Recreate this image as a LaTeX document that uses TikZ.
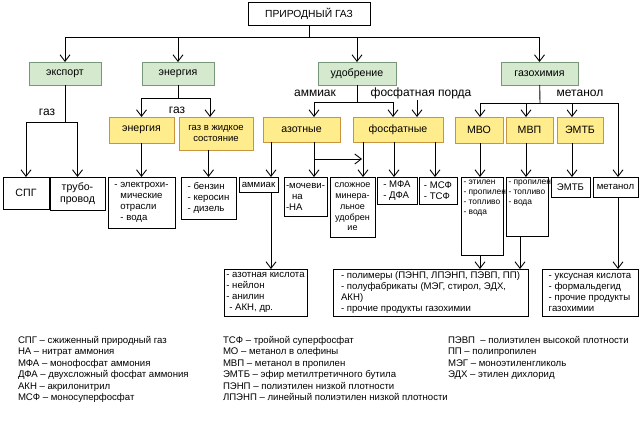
\documentclass[tikz,border=0pt]{standalone}
\usepackage{fontspec}
\setmainfont{Liberation Sans}
\usetikzlibrary{arrows.meta}
\definecolor{boxgreen}{RGB}{212,233,206}
\definecolor{edgegreen}{RGB}{120,150,120}
\definecolor{boxyellow}{RGB}{255,236,140}
\definecolor{edgeyellow}{RGB}{200,148,60}

\begin{document}
\begin{tikzpicture}[x=1pt, y=-1pt, line width=0.9pt,
		every node/.style={inner sep=1.5pt, outer sep=0pt},
		sz/.style 2 args={minimum width=#1, minimum height=#2},
		box/.style={draw, anchor=north west, align=left, font=\fontsize{9.6}{11}\selectfont},
		txt/.style={anchor=north west, align=left, inner sep=2.5pt, font=\fontsize{8.4}{10}\selectfont},
		greenbox/.style={draw=edgegreen, fill=boxgreen, anchor=north west, font=\fontsize{10.6}{12}\selectfont},
		yellowbox/.style={draw=edgeyellow, fill=boxyellow, anchor=north west, align=center, font=\fontsize{10.6}{12}\selectfont},
		lbl/.style={font=\fontsize{12}{14}\selectfont},
		legend/.style={anchor=north west, align=left, inner sep=0pt, font=\fontsize{9.6}{11.5}\selectfont},
		arr/.style={-{Straight Barb[length=6.5pt,width=10pt]}}]
		\useasboundingbox (0,0) rectangle (640,444);

		% top and first level
		\node[box, sz={122}{23}, font=\fontsize{10.3}{12}\selectfont] (gas) at (248,2) {ПРИРОДНЫЙ ГАЗ};
		\node[greenbox, sz={72}{23}] (export) at (29,62) {экспорт};
		\node[greenbox, sz={72}{23}] (energy) at (142,62) {энергия};
		\node[greenbox, sz={78}{23}] (fert) at (318,62) {удобрение};
		\node[greenbox, sz={77}{23}] (chem) at (501,62) {газохимия};

		% second level
		\node[yellowbox, sz={65}{26}] (yen) at (109,117) {энергия};
		\node[yellowbox, sz={74}{33}, font=\fontsize{9.5}{11.5}\selectfont] (yliq) at (179,117) {газ в жидкое\\состояние};
		\node[yellowbox, sz={77}{25}] (ynit) at (263,117) {азотные};
		\node[yellowbox, sz={90}{25}] (yphos) at (353,117) {фосфатные};
		\node[yellowbox, sz={48}{26}] (ymbo) at (455,117) {МВО};
		\node[yellowbox, sz={47}{26}] (ymvp) at (506,117) {МВП};
		\node[yellowbox, sz={46}{26}] (ymtb) at (557,117) {ЭМТБ};

		% products
		\node[box, sz={46}{32}, align=center, font=\fontsize{10.6}{12}\selectfont] (lng) at (3,177) {СПГ};
		\node[box, sz={55}{33}, align=center, font=\fontsize{10.6}{12.5}\selectfont] (pipe) at (50,177) {трубо-\\провод};
		\node[box, sz={67}{51}] (elec) at (108,177) {- электрохи-\\\hspace*{6pt}мические\\\hspace*{6pt}отрасли\\\hspace*{6pt}- вода};
		\node[box, sz={55}{42}] (fuel) at (181,177) {- бензин\\- керосин\\- дизель};
		\node[box, sz={39}{15}, align=center] (amm) at (239,177) {аммиак};
		\node[box, sz={43}{39}] (urea) at (284,177) {-мочеви-\\\hspace*{6pt}на\\-НА};
		\node[box, sz={45}{60}, align=center, font=\fontsize{9}{10.8}\selectfont] (compl) at (330,177) {сложное\\минера-\\льное\\удобрен\\ие};
		\node[box, sz={40}{27}] (mfa) at (377,177) {- МФА\\- ДФА};
		\node[box, sz={38}{27}] (msf) at (419,177) {- МСФ\\- ТСФ};
		\node[box, sz={42}{78}, label={[txt]north west:{- этилен\\- пропилен\\- топливо\\- вода}}] (eth) at (461,177) {};
		\node[box, sz={42}{59}, label={[txt]north west:{- пропилен\\- топливо\\- вода}}] (prop) at (506,177) {};
		\node[box, sz={39}{20}, align=center] (mtbe) at (551,177) {ЭМТБ};
		\node[box, sz={45}{20}, align=center] (meth) at (593,177) {метанол};

		% end products
		\node[box, sz={83}{47}] (nacid) at (224,269) {- азотная кислота\\- нейлон\\- анилин\\\hspace*{3pt}- АКН, др.};
		\node[box, sz={195}{47}] (poly) at (333,269) {- полимеры (ПЭНП, ЛПЭНП, ПЭВП, ПП)\\- полуфабрикаты (МЭГ, стирол, ЭДХ,\\АКН)\\- прочие продукты газохимии};
		\node[box, sz={96}{47}] (acet) at (542,269) {- уксусная кислота\\- формальдегид\\- прочие продукты\\газохимии};

		% labels on the lines
		\node[lbl] (gaslbla) at (47,112) {газ};
		\node[lbl] (gaslblb) at (177,110) {газ};
		\node[lbl] (ammlbl) at (315,93) {аммиак};
		\node[lbl] (rocklbl) at (421,93) {фосфатная порда};
		\node[lbl] (methlbl) at (580,93) {метанол};

		% columns and junctions
		\coordinate (bus) at (309,37);
		\coordinate (exbus) at (65,122);
		\coordinate (enbus) at (178,98);
		\coordinate (fbus) at (357,102);
		\coordinate (cbus) at (540,103);
		\coordinate (nbr) at (314,159);
		\coordinate (cola) at (271,0);
		\coordinate (colb) at (314,0);
		\coordinate (colc) at (363,0);
		\coordinate (cold) at (394,0);
		\coordinate (cole) at (435,0);
		\coordinate (colf) at (480,0);
		\coordinate (colg) at (526,0);
		\coordinate (colh) at (572,0);
		\coordinate (colk) at (618,0);
		\coordinate (colm) at (520,0);
		\coordinate (colr) at (417,0);
		\coordinate (coly) at (210,0);

		\draw (gas) -- (bus);
		\draw[arr] (bus) -| (export);
		\draw[arr] (bus) -| (energy);
		\draw[arr] (bus) -| (fert);
		\draw[arr] (bus) -| (chem);

		\draw (export) -- (exbus);
		\draw[arr] (exbus) -| (lng);
		\draw[arr] (exbus) -| (pipe);

		\draw (energy) -- (enbus);
		\draw[arr] (enbus) -| (yen);
		\draw[arr] (enbus) -| (coly |- yliq.north);
		\draw[arr] (yen) -- (elec);
		\draw[arr] (yliq.south -| fuel) -- (fuel);

		\draw (fert) -- (fbus);
		\draw[arr] (fbus) -| (colb |- ynit.north);
		\draw[arr] (fbus) -| ([xshift=-5pt]yphos.north);
		\draw[arr] (rocklbl.south -| colr) -- (colr |- yphos.north);
		\draw[arr] (ynit.south -| cola) -- (cola |- amm.north);
		\draw[arr] (amm.south -| cola) -- (cola |- nacid.north);
		\draw[arr] (ynit.south -| colb) -- (colb |- urea.north);
		\draw[arr, shorten >=1pt] (nbr) -- (nbr -| colc);
		\draw[arr] (yphos.south -| colc) -- (colc |- compl.north);
		\draw[arr] (yphos.south -| cold) -- (cold |- mfa.north);
		\draw[arr] (yphos.south -| cole) -- (cole |- msf.north);

		\draw (chem) -- (cbus);
		\draw[arr] (cbus) -| (colf |- ymbo.north);
		\draw[arr] (cbus) -| (colg |- ymvp.north);
		\draw[arr] (cbus) -| (colh |- ymtb.north);
		\draw[arr] (cbus) -| (colk |- meth.north);
		\draw[arr] (ymbo.south -| colf) -- (colf |- eth.north);
		\draw[arr] (ymvp.south -| colg) -- (colg |- prop.north);
		\draw[arr] (ymtb.south -| colh) -- (colh |- mtbe.north);
		\draw[arr] (eth.south -| colf) -- (colf |- poly.north);
		\draw[arr] (prop.south -| colm) -- (colm |- poly.north);
		\draw[arr] (meth.south -| colk) -- (colk |- acet.north);

		% legend
		\node[legend] (lega) at (18,336) {СПГ – сжиженный природный газ\\НА – нитрат аммония\\МФА – монофосфат аммония\\ДФА – двухсложный фосфат аммония\\АКН – акрилонитрил\\МСФ – моносуперфосфат};
		\node[legend] (legb) at (223,336) {ТСФ – тройной суперфосфат\\МО – метанол в олефины\\МВП – метанол в пропилен\\ЭМТБ – эфир метилтретичного бутила\\ПЭНП – полиэтилен низкой плотности\\ЛПЭНП – линейный полиэтилен низкой плотности};
		\node[legend] (legc) at (448,336) {ПЭВП\ \ – полиэтилен высокой плотности\\ПП – полипропилен\\МЭГ – моноэтиленгликоль\\ЭДХ – этилен дихлорид};
	\end{tikzpicture}
\end{document}
